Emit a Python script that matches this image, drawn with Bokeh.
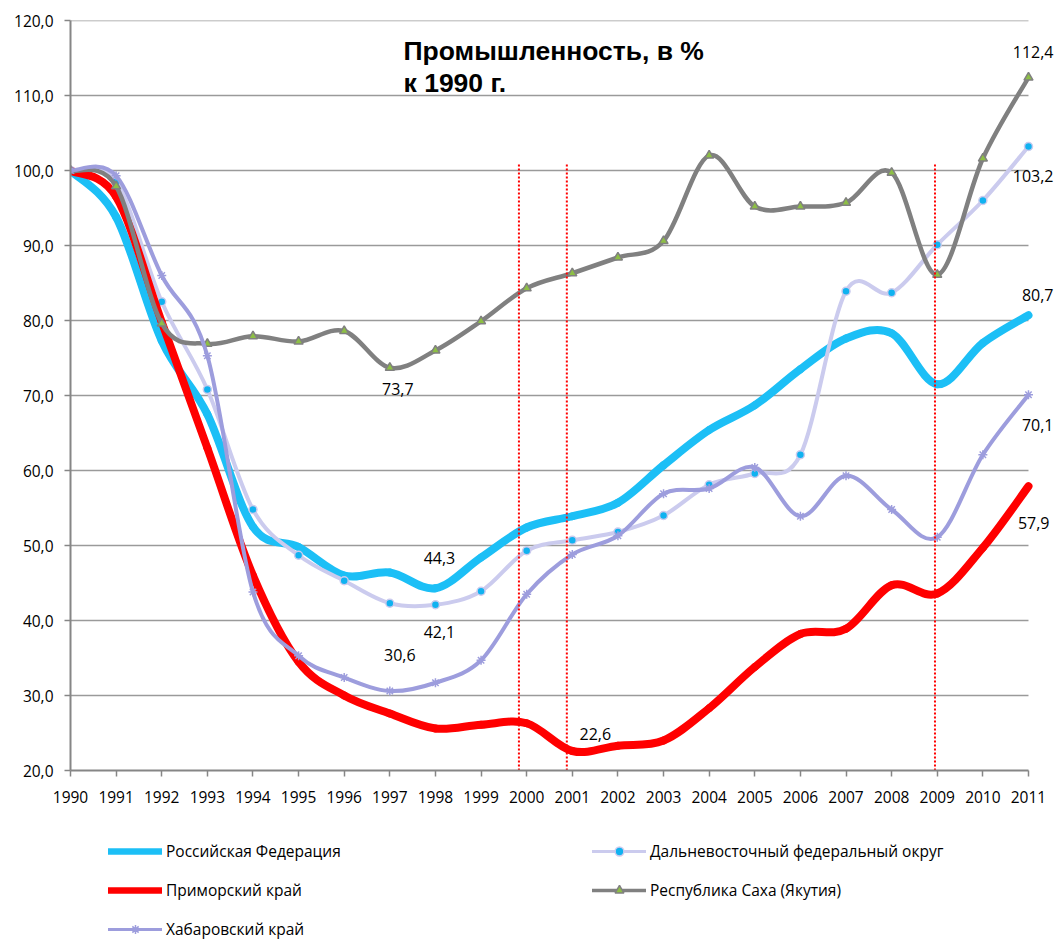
from bokeh.plotting import figure
from bokeh.layouts import column
from bokeh.models import (Range1d, FixedTicker, ColumnDataSource, LabelSet, Label,
                          Legend, LegendItem)
from bokeh.embed import file_html
from bokeh.resources import INLINE
from bokeh.core.properties import value

# ---------------- data ----------------
years = list(range(1990, 2012))
rf = [100.0, 93.8, 77.3, 67.5, 52.5, 49.8, 46.0, 46.4, 44.3, 48.4, 52.4, 53.9,
      55.7, 60.7, 65.4, 68.7, 73.5, 77.6, 78.3, 71.5, 77.0, 80.7]
dfo = [100.0, 98.5, 82.5, 70.8, 54.8, 48.7, 45.3, 42.3, 42.1, 43.9, 49.3, 50.7,
       51.8, 54.0, 58.1, 59.6, 62.1, 83.9, 83.7, 90.1, 96.0, 103.2]
primorsky = [100.0, 96.5, 79.8, 63.0, 46.0, 34.5, 30.0, 27.6, 25.6, 26.1, 26.3, 22.6,
             23.3, 24.0, 28.3, 33.8, 38.2, 38.9, 44.7, 43.6, 49.7, 57.9]
sakha = [100.0, 97.9, 79.6, 76.9, 77.9, 77.2, 78.6, 73.7, 76.0, 79.9, 84.3, 86.3,
         88.4, 90.6, 102.0, 95.2, 95.2, 95.7, 99.7, 86.1, 101.6, 112.4]
khab = [100.0, 99.3, 86.0, 75.3, 43.8, 35.3, 32.4, 30.6, 31.7, 34.7, 43.5, 48.8,
        51.3, 56.9, 57.6, 60.4, 53.9, 59.3, 54.8, 51.1, 62.1, 70.1]

names = ["Российская Федерация", "Дальневосточный федеральный округ",
         "Приморский край", "Республика Саха (Якутия)", "Хабаровский край"]

y_ticks = [20, 30, 40, 50, 60, 70, 80, 90, 100, 110, 120]
y_tick_labels = ["20,0", "30,0", "40,0", "50,0", "60,0", "70,0", "80,0", "90,0",
                 "100,0", "110,0", "120,0"]
x_ticks = years

title_lines = ["Промышленность, в %", "к 1990 г."]

# vertical reference lines (years) and their top value
ref_years = [1999.83, 2000.88, 2008.95]
ref_top = 100.8

FONT = "Open Sans"
W = 1057
MAIN_H = 812
LEG_H = 942 - MAIN_H
X_END = 2011.636   # frame extends a little past 2011 to leave room for end labels

p = figure(width=W, height=MAIN_H, x_range=Range1d(1990, X_END), y_range=Range1d(20, 120),
           output_backend="svg", toolbar_location=None,
           min_border_left=70, min_border_right=0, min_border_top=20,
           min_border_bottom=MAIN_H - 770)
p.outline_line_color = None
p.background_fill_color = "white"

# axes
for ax in (p.xaxis[0], p.yaxis[0]):
    ax.axis_line_color = "#868686"
    ax.axis_line_width = 2
    ax.major_tick_line_color = "#868686"
    ax.major_tick_line_width = 1.5
    ax.major_tick_in = 0
    ax.major_tick_out = 6
    ax.minor_tick_line_color = None
    ax.major_label_text_font = FONT
    ax.major_label_text_font_size = "15.5px"
    ax.major_label_text_color = "black"

p.xaxis.ticker = FixedTicker(ticks=x_ticks)
p.xaxis.bounds = (years[0], years[-1])
p.xaxis.major_label_standoff = 14
p.yaxis.ticker = FixedTicker(ticks=y_ticks)
p.yaxis.major_label_overrides = {t: l for t, l in zip(y_ticks, y_tick_labels)}
p.yaxis.major_label_standoff = 11

p.xgrid.visible = False
p.ygrid.visible = False
# horizontal grid lines limited to the category span
p.segment(x0=[years[0]] * len(y_ticks[1:]), y0=y_ticks[1:],
          x1=[years[-1]] * len(y_ticks[1:]), y1=y_ticks[1:],
          line_color="#9a9a9a", line_width=1.5)


def smooth_segments(xs, ys):
    """Bezier control points (Catmull-Rom style, like Excel smoothed lines)."""
    n = len(xs)
    d = dict(x0=[], y0=[], x1=[], y1=[], cx0=[], cy0=[], cx1=[], cy1=[])
    for i in range(n - 1):
        xp, yp = (xs[i - 1], ys[i - 1]) if i > 0 else (xs[i], ys[i])
        xn, yn = (xs[i + 2], ys[i + 2]) if i + 2 < n else (xs[i + 1], ys[i + 1])
        d["x0"].append(xs[i]); d["y0"].append(ys[i])
        d["x1"].append(xs[i + 1]); d["y1"].append(ys[i + 1])
        d["cx0"].append(xs[i] + (xs[i + 1] - xp) / 6.0)
        d["cy0"].append(ys[i] + (ys[i + 1] - yp) / 6.0)
        d["cx1"].append(xs[i + 1] - (xn - xs[i]) / 6.0)
        d["cy1"].append(ys[i + 1] - (yn - ys[i]) / 6.0)
    return ColumnDataSource(d)


marker_styles = {
    "circle": dict(marker="circle", size=8, fill_color="#10B2F0", line_color="#CBCBEE",
                   line_width=1.5),
    "triangle": dict(marker="triangle", size=9, fill_color="#8DBF45", line_color="#808080",
                     line_width=1.5),
    "asterisk": dict(marker="asterisk", size=9, line_color="#9D9DDD", line_width=1.5),
}

styles = [
    dict(data=rf, color="#1CBFF6", width=8, marker=None),
    dict(data=dfo, color="#CBCBEE", width=4, marker="circle"),
    dict(data=primorsky, color="#FF0000", width=8, marker=None),
    dict(data=sakha, color="#808080", width=4.5, marker="triangle"),
    dict(data=khab, color="#9D9DDD", width=4, marker="asterisk"),
]

for st in styles:
    src = smooth_segments(years, st["data"])
    p.bezier(x0="x0", y0="y0", x1="x1", y1="y1", cx0="cx0", cy0="cy0", cx1="cx1", cy1="cy1",
             source=src, line_color=st["color"], line_width=st["width"], line_cap="round")
    if st["marker"]:
        p.scatter(years, st["data"], **marker_styles[st["marker"]])

# vertical dotted red lines
p.segment(x0=ref_years, y0=[20] * len(ref_years), x1=ref_years, y1=[ref_top] * len(ref_years),
          line_color="#FF0000", line_width=2, line_dash="2 2")

# title
p.add_layout(Label(x=1997.30, y=116.0, text=title_lines[0], text_font="Liberation Sans",
                   text_font_style="bold", text_font_size="26.5px", text_color="black",
                   text_baseline="alphabetic"))
p.add_layout(Label(x=1997.30, y=111.7, text=title_lines[1], text_font="Liberation Sans",
                   text_font_style="bold", text_font_size="26.5px", text_color="black",
                   text_baseline="alphabetic"))


def fmt(v):
    return f"{v:.1f}".replace(".", ",")


# inner data labels (series, year, x offset px, y offset px)
inner = [(sakha, 1997, 8, -21.5), (rf, 1998, 4, 30), (dfo, 1998, 4, -27.5),
         (khab, 1997, 10, 36.5), (primorsky, 2001, 23, 17)]
src_in = ColumnDataSource(dict(
    x=[y for _, y, _, _ in inner],
    y=[s[years.index(y)] for s, y, _, _ in inner],
    text=[fmt(s[years.index(y)]) for s, y, _, _ in inner],
    xo=[a for _, _, a, _ in inner],
    yo=[b for _, _, _, b in inner]))
p.add_layout(LabelSet(x="x", y="y", text="text", x_offset="xo", y_offset="yo", source=src_in,
                      text_font=value(FONT), text_font_size="16px", text_color="black",
                      text_align="center", text_baseline="middle"))

# end-of-series labels (series, x offset px, y offset px)
outer = [(sakha, 25, 25.5), (dfo, 25, -29), (rf, 25, 20), (khab, 25, -30), (primorsky, 21, -37)]
src_out = ColumnDataSource(dict(
    x=[years[-1]] * len(outer),
    y=[s[-1] for s, _, _ in outer],
    text=[fmt(s[-1]) for s, _, _ in outer],
    xo=[a for _, a, _ in outer],
    yo=[b for _, _, b in outer]))
p.add_layout(LabelSet(x="x", y="y", text="text", x_offset="xo", y_offset="yo", source=src_out,
                      text_font=value(FONT), text_font_size="16px", text_color="black",
                      text_align="right", text_baseline="middle"))

# ---------------- legend panel below ----------------
lg = figure(width=W, height=LEG_H, x_range=Range1d(0, 1), y_range=Range1d(0, 1),
            output_backend="svg", toolbar_location=None, x_axis_type=None, y_axis_type=None,
            min_border_left=0, min_border_right=0, min_border_top=0, min_border_bottom=0)
lg.outline_line_color = None
lg.xgrid.visible = False
lg.ygrid.visible = False

items = []
for name, st in zip(names, styles):
    # placeholder glyphs (outside the visible range) used only for the legend
    rends = [lg.line(x=[5, 6], y=[5, 6], line_color=st["color"],
                     line_width=st["width"] * 0.8, line_cap="round")]
    if st["marker"]:
        rends.append(lg.scatter(x=[5], y=[5], **marker_styles[st["marker"]]))
    items.append(LegendItem(label=name, renderers=rends))


def make_legend(its, loc):
    return Legend(items=its, location=loc, orientation="vertical",
                  glyph_width=54, glyph_height=22, label_height=22, label_standoff=4,
                  spacing=17, padding=0, margin=0, border_line_color=None,
                  background_fill_alpha=0, label_text_font=FONT,
                  label_text_font_size="15.5px", label_text_color="black")


lg.add_layout(make_legend([items[0], items[2], items[4]], (38, 2)), "center")
lg.add_layout(make_legend([items[1], items[3]], (522, 41)), "center")

open("out.html", "w").write(file_html(column(p, lg, spacing=0), INLINE))
